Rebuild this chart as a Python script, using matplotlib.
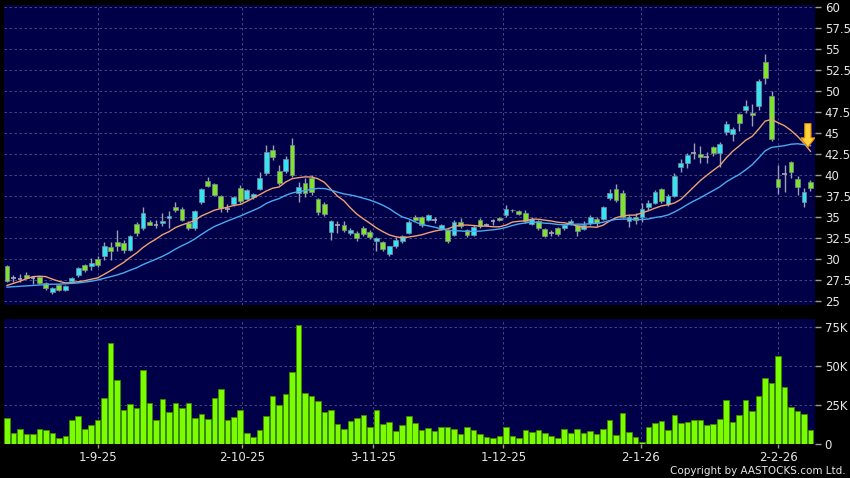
import matplotlib
matplotlib.use("Agg")
import matplotlib.pyplot as plt
from matplotlib.patches import Polygon
import numpy as np
import pandas as pd

# daily candles (index 0 = first visible session)
opens = [29.2, 27.7, 27.6, 28.1, 27.7, 27.9, 27.2, 26.1, 26.9, 26.3,
         27.4, 28.1, 29.3, 29.2, 30.0, 30.3, 31.4, 32.0, 31.95, 31.07,
         34.17, 33.66, 34.45, 34.1, 34.25, 34.85, 36.2, 36.0, 34.33, 33.66,
         36.76, 39.34, 38.94, 37.55, 36.0, 36.5, 38.5, 37.2, 37.35, 38.4,
         40.3, 42.95, 40.5, 40.5, 43.55, 37.9, 39.0, 39.7, 37.1, 36.6,
         33.2, 34.0, 34.05, 33.1, 33.06, 33.66, 33.26, 32.1, 32.07, 30.6,
         31.5, 32.1, 33.1, 34.97, 34.97, 34.7, 34.7, 33.6, 33.5, 32.9,
         34.45, 33.46, 32.9, 34.7, 34.1, 34.5, 34.9, 35.2, 35.9, 35.7,
         35.5, 34.2, 34.5, 33.6, 33.1, 33.66, 33.7, 34.3, 34.0, 33.6,
         34.33, 34.8, 34.8, 37.27, 38.38, 37.9, 34.49, 34.97, 34.97, 36.24,
         36.7, 38.38, 36.5, 37.5, 41.0, 41.4, 42.6, 42.5, 42.2, 43.3,
         42.6, 45.13, 44.9, 47.24, 47.7, 47.44, 48.23, 53.48, 49.43, 39.49,
         40.1, 41.6, 39.5, 36.75, 39.17]
highs = [29.3, 28.1, 28.2, 28.4, 28.0, 28.0, 27.3, 26.7, 27.0, 26.9,
         27.9, 29.1, 29.4, 30.1, 30.3, 32.0, 32.0, 33.4, 32.3, 32.9,
         34.4, 36.2, 34.7, 34.6, 35.5, 35.7, 36.8, 36.2, 34.5, 35.8,
         38.5, 39.8, 39.1, 37.6, 36.5, 37.5, 38.8, 38.4, 37.9, 40.4,
         43.6, 43.6, 41.2, 42.3, 44.4, 39.2, 39.7, 40.0, 37.3, 36.8,
         34.7, 34.5, 34.5, 33.7, 33.3, 33.9, 33.4, 32.6, 32.2, 31.6,
         32.6, 32.9, 34.6, 35.3, 35.1, 35.4, 35.0, 34.2, 33.6, 34.6,
         34.9, 33.6, 34.0, 34.9, 34.3, 34.8, 35.0, 36.4, 36.0, 35.8,
         35.9, 35.0, 34.7, 33.7, 33.4, 33.8, 34.2, 34.8, 34.2, 34.5,
         35.3, 35.0, 36.3, 38.3, 38.9, 38.2, 35.3, 35.5, 36.7, 37.0,
         38.2, 38.5, 37.8, 40.3, 41.9, 42.6, 43.8, 43.5, 42.8, 43.5,
         43.9, 46.5, 45.7, 47.4, 48.9, 48.5, 51.4, 54.4, 50.0, 41.2,
         41.2, 41.7, 39.9, 38.5, 39.4]
lows = [27.3, 27.3, 27.3, 27.6, 27.0, 27.0, 26.3, 25.8, 26.2, 26.2,
        27.3, 27.9, 28.5, 28.7, 29.1, 29.9, 29.9, 31.0, 30.7, 30.9,
        32.8, 33.5, 34.0, 33.7, 33.9, 33.7, 35.6, 34.5, 33.4, 33.4,
        36.6, 38.6, 37.5, 35.6, 35.6, 36.3, 36.7, 37.0, 37.2, 38.2,
        40.0, 41.8, 38.8, 40.2, 39.8, 36.8, 37.4, 37.6, 35.2, 35.1,
        32.3, 33.1, 33.2, 32.9, 32.2, 32.8, 32.4, 30.9, 30.9, 30.3,
        31.3, 31.9, 33.0, 34.5, 33.8, 34.5, 34.3, 33.4, 31.9, 32.7,
        33.7, 32.6, 32.8, 33.7, 33.9, 34.1, 34.5, 35.0, 35.6, 35.2,
        34.3, 34.0, 33.5, 32.6, 32.8, 32.7, 33.5, 34.1, 32.8, 33.4,
        34.0, 33.9, 34.6, 37.0, 36.8, 34.9, 33.8, 34.2, 34.4, 35.9,
        36.5, 36.7, 36.3, 37.4, 40.4, 40.9, 41.9, 41.5, 41.4, 42.3,
        41.0, 44.8, 44.1, 45.2, 47.4, 45.8, 47.8, 50.8, 44.1, 37.8,
        38.0, 39.6, 37.6, 36.2, 38.1]
closes = [27.4, 27.7, 27.6, 27.7, 27.7, 27.2, 26.5, 26.6, 26.3, 26.8,
          27.7, 28.9, 28.7, 29.5, 29.3, 31.5, 30.9, 31.5, 31.07, 32.8,
          33.06, 35.44, 34.1, 34.1, 34.5, 35.1, 35.8, 34.6, 33.66, 35.68,
          38.35, 38.74, 37.63, 36.04, 36.0, 37.35, 36.95, 38.2, 37.7, 39.7,
          42.7, 42.1, 39.1, 41.9, 40.0, 38.6, 37.9, 38.0, 35.6, 35.4,
          34.5, 34.0, 33.45, 33.5, 32.55, 32.98, 32.66, 32.46, 31.15, 31.5,
          32.3, 32.74, 34.4, 34.65, 34.05, 35.3, 34.7, 34.0, 32.2, 34.45,
          33.9, 32.86, 33.8, 33.9, 34.1, 34.5, 34.7, 36.0, 35.8, 35.4,
          34.5, 34.8, 33.7, 32.8, 33.1, 33.0, 34.1, 34.5, 33.3, 34.1,
          34.97, 34.25, 36.16, 37.83, 37.03, 35.05, 35.05, 34.65, 35.92, 36.64,
          37.99, 36.95, 37.55, 39.9, 41.4, 42.4, 42.6, 42.1, 42.2, 42.6,
          43.67, 46.05, 45.5, 46.17, 48.19, 47.12, 51.21, 51.6, 44.26, 38.62,
          40.1, 40.4, 38.6, 37.95, 38.5]
volumes_k = [16.7, 6.8, 9.4, 6.4, 6.4, 9.6, 8.8, 7.1, 4.1, 5.1,
             15.6, 17.9, 9.6, 12.4, 15.2, 29.5, 64.7, 41.0, 21.8, 25.6,
             22.9, 47.2, 26.1, 15.4, 28.8, 20.7, 26.1, 23.3, 26.3, 16.9,
             19.0, 16.2, 29.5, 35.3, 15.6, 17.3, 21.8, 6.8, 4.3, 9.0,
             18.2, 30.8, 25.0, 32.3, 46.2, 75.9, 32.7, 30.8, 27.8, 20.3,
             22.0, 13.0, 9.8, 14.7, 16.9, 18.6, 10.7, 21.6, 12.6, 14.1,
             8.1, 12.4, 17.7, 13.2, 9.2, 10.3, 8.1, 10.7, 10.9, 9.9,
             6.2, 11.1, 9.2, 6.2, 4.3, 3.9, 4.9, 10.7, 5.1, 3.9,
             9.2, 7.5, 8.8, 7.3, 5.4, 3.9, 9.6, 6.9, 9.6, 6.9,
             8.1, 6.4, 9.9, 15.4, 5.6, 20.1, 7.5, 4.5, 1.3, 10.7,
             13.3, 15.0, 8.8, 18.6, 13.3, 13.9, 15.6, 15.6, 12.2, 13.1,
             16.1, 28.1, 14.3, 18.8, 28.3, 21.0, 30.8, 42.0, 38.8, 56.1,
             36.4, 24.0, 21.0, 19.1, 9.2]

# moving-average values at the left edge, before a full window exists
ma10_head = [26.85, 27.1, 27.35, 27.65, 27.9, 27.95, 27.9, 27.6, 27.35]
ma20_head = [26.65, 26.7, 26.75, 26.8, 26.85, 26.9, 26.95, 27.0, 27.0, 27.05,
             27.1, 27.15, 27.25, 27.35, 27.5, 27.7, 27.9, 28.1, 28.35]

tick_pos = [14, 36.3, 56.5, 76.6, 97.8, 119]
tick_labels = ["1-9-25", "2-10-25", "3-11-25", "1-12-25", "2-1-26", "2-2-26"]
price_ticks = [25, 27.5, 30, 32.5, 35, 37.5, 40, 42.5, 45, 47.5, 50, 52.5, 55, 57.5, 60]
vol_ticks = [0, 25, 50, 75]

BG = "#000048"
GRID = "#4c5288"
UP = "#35e4f4"
DOWN = "#7fe22c"
FLAT = "#a8a8b8"
WICK = "#9aa0b4"
TXT = "#e6e6e6"

df = pd.DataFrame({"open": opens, "high": highs, "low": lows,
                   "close": closes, "vol": np.array(volumes_k) * 1000})
df["ma10"] = df["close"].rolling(10).mean()
df["ma20"] = df["close"].rolling(20).mean()
df.loc[:len(ma10_head) - 1, "ma10"] = ma10_head
df.loc[:len(ma20_head) - 1, "ma20"] = ma20_head
x = np.arange(len(df))

fig = plt.figure(figsize=(8.5, 4.78), dpi=100, facecolor="black")
ax1 = fig.add_axes([4 / 850, 1 - 305 / 478, 811 / 850, 300 / 478], facecolor=BG)
ax2 = fig.add_axes([4 / 850, 1 - 444 / 478, 811 / 850, 125 / 478], facecolor=BG)

for ax in (ax1, ax2):
    for s in ax.spines.values():
        s.set_visible(False)
    ax.set_xlim(-0.46, 124.7)
    ax.grid(True, color=GRID, linestyle=(0, (3, 3)), linewidth=0.6)
    ax.set_axisbelow(True)
    ax.set_xticks(tick_pos)
    ax.yaxis.tick_right()
    ax.tick_params(axis="y", colors="#9a9a9a", labelcolor=TXT, length=4,
                   width=1, pad=3, labelsize=8.5)

# candles
up = df["close"] > df["open"]
down = df["close"] < df["open"]
flat = df["close"] == df["open"]
ax1.vlines(x, df["low"], df["high"], color=WICK, linewidth=1, zorder=2)
body_w = 0.74
for mask, col in ((up, UP), (down, DOWN)):
    ax1.bar(x[mask], (df["close"] - df["open"]).abs()[mask],
            bottom=df[["open", "close"]].min(axis=1)[mask], width=body_w,
            color=col, edgecolor="#7c8a98", linewidth=0.5, zorder=3)
ax1.hlines(df["close"][flat], x[flat] - body_w / 2, x[flat] + body_w / 2,
           color=FLAT, linewidth=1.2, zorder=3)

ax1.plot(x, df["ma10"], color="#f0a070", linewidth=1, zorder=4)
ax1.plot(x, df["ma20"], color="#4aaaf0", linewidth=1, zorder=4)

# arrow pointing at the last 10-day average
tip_x = x[-1] - 0.4
tip_y = df["ma10"].iloc[-1] + 0.5
arrow = Polygon([(tip_x, tip_y), (tip_x - 1.1, tip_y + 1.1), (tip_x - 0.48, tip_y + 1.1),
                 (tip_x - 0.48, tip_y + 2.8), (tip_x + 0.48, tip_y + 2.8),
                 (tip_x + 0.48, tip_y + 1.1), (tip_x + 1.1, tip_y + 1.1)],
                closed=True, facecolor="#ffd23c", edgecolor="#e08a00",
                linewidth=0.8, zorder=5)
ax1.add_patch(arrow)

ax1.set_ylim(24.52, 60.27)
ax1.set_yticks(price_ticks)
ax1.set_yticklabels([f"{v:g}" for v in price_ticks])
ax1.tick_params(axis="x", length=0, labelbottom=False)

# volume
ax2.bar(x, df["vol"], width=0.86, color="#7cfc00", edgecolor="#3c8c00",
        linewidth=0.6, zorder=3)
ax2.set_ylim(0, 80000)
ax2.set_yticks([v * 1000 for v in vol_ticks])
ax2.set_yticklabels([f"{v}K" if v else "0" for v in vol_ticks])
ax2.set_xticklabels(tick_labels)
ax2.tick_params(axis="x", colors="#9a9a9a", labelcolor=TXT, length=3,
                width=1, pad=2, labelsize=8.5)

fig.text(846 / 850, 1 - 471 / 478, "Copyright by AASTOCKS.com Ltd.",
         ha="right", va="center", color=TXT, fontsize=7.5)

fig.savefig("out.png", dpi=100, facecolor="black")
